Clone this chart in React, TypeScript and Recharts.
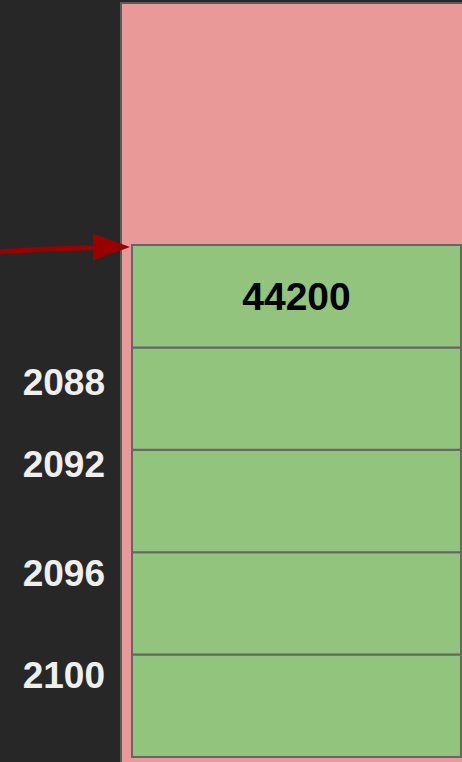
import React from 'react';
import { BarChart, Bar, XAxis, YAxis, ReferenceArea, ReferenceLine, LabelList } from 'recharts';

// stacked blocks, bottom to top (each block = one period)
const blockKeys = ['b1', 'b2', 'b3', 'b4', 'b5'];
const blockValues = [1, 1, 1, 1, 1];
const topBlockLabel = '44200';

// year markers on the left side
const yearLabels = ['2088', '2092', '2096', '2100'];
const yearPositions = [3.66, 2.86, 1.8, 0.8];

// pink panel top and visible value range
const panelTop = 7.363;
const yDomain: [number, number] = [-0.1465, 7.3926];

const row: Record<string, number | string> = { name: 'stack', label: topBlockLabel };
blockKeys.forEach((k, i) => {
  row[k] = blockValues[i];
});
const data = [row];

const stackTop = blockValues.reduce((a, b) => a + b, 0);

const FONT = '"Liberation Sans", Arial, sans-serif';

const Arrow = (props: any) => {
  const { x1, y1 } = props;
  const tx = x1 + 9;
  const ty = y1 + 2;
  return (
    <g>
      <path
        d={`M ${tx - 132} ${ty + 5} Q ${tx - 80} ${ty + 1.5} ${tx - 34} ${ty + 0.5}`}
        stroke="#990000"
        strokeWidth={5}
        fill="none"
      />
      <path d={`M ${tx} ${ty} L ${tx - 37} ${ty - 13.5} L ${tx - 37} ${ty + 13.5} Z`} fill="#990000" />
    </g>
  );
};

export default function App() {
  return (
    <div
      style={{
        position: 'absolute',
        top: 0,
        left: 0,
        width: 462,
        height: 762,
        overflow: 'hidden',
        background: '#272727',
      }}
    >
      <BarChart
        width={472}
        height={772}
        data={data}
        margin={{ top: 0, right: 0, bottom: 0, left: 0 }}
        barCategoryGap={11}
      >
        <XAxis dataKey="name" hide />
        <YAxis
          type="number"
          width={121}
          domain={yDomain}
          allowDataOverflow
          ticks={yearPositions}
          interval={0}
          axisLine={false}
          tickLine={false}
          tickMargin={10}
          tickFormatter={(v: number) => yearLabels[yearPositions.indexOf(v)] ?? ''}
          tick={{ fill: '#efefef', fontSize: 37, fontWeight: 'bold', fontFamily: FONT }}
        />
        <ReferenceArea
          y1={yDomain[0]}
          y2={panelTop}
          fill="#ea9999"
          fillOpacity={1}
          stroke="#5b5b5b"
          strokeWidth={2}
          ifOverflow="visible"
        />
        {blockKeys.map((k, i) => (
          <Bar
            key={k}
            dataKey={k}
            stackId="s"
            fill="#93c47d"
            stroke="#666666"
            strokeWidth={2}
            isAnimationActive={false}
          >
            {i === blockKeys.length - 1 && (
              <LabelList
                dataKey="label"
                position="center"
                fill="#000000"
                fontSize={39}
                fontWeight="bold"
                fontFamily={FONT}
              />
            )}
          </Bar>
        ))}
        <ReferenceLine y={stackTop} ifOverflow="visible" shape={Arrow} />
      </BarChart>
    </div>
  );
}
